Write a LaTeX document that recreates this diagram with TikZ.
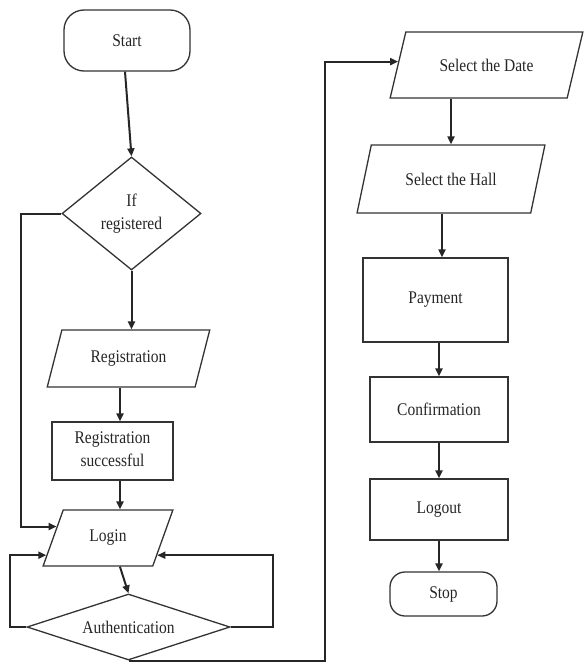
\documentclass[tikz,border=0pt]{standalone}
\usepackage{fontspec}
\usepackage{graphicx}
\setmainfont{Liberation Serif}
\usetikzlibrary{shapes.geometric,arrows.meta,calc}
\newcommand{\tx}[1]{\scalebox{1}[1.15]{#1}}
\newcommand{\twol}[2]{\tx{\begin{tabular}{@{}c@{}}#1\\[2pt]#2\end{tabular}}}
\begin{document}
\begin{tikzpicture}[x=1pt,y=-1pt,
  every node/.style={font=\fontsize{15.5}{18}\selectfont, text=black!85},
  shp/.style={draw=black!80, line width=1.3pt, inner sep=0pt},
  box/.style={shp, rectangle},
  term/.style={shp, rectangle, rounded corners=#1},
  dec/.style={shp, diamond, aspect=#1},
  para/.style={shp, trapezium, trapezium stretches=true},
  arr/.style={draw=black!85, line width=2pt, -{Triangle[length=8pt,width=7pt]}}
]
\useasboundingbox (0,0) rectangle (584,664);

% left column
\node[term=20pt, minimum width=126pt, minimum height=61pt] (start) at (127,40.5) {\tx{Start}};
\node[dec=1.23, minimum width=139pt, minimum height=113pt] (ir) at (131.5,213.5) {\twol{If}{registered}};
\node[para, trapezium left angle=62, trapezium right angle=118, minimum width=163pt, minimum height=57pt] (reg) at (128.5,358.5) {\tx{Registration}};
\node[box, minimum width=121pt, minimum height=58pt] (rs) at (112.5,451) {\twol{Registration}{successful}};
\node[para, trapezium left angle=62, trapezium right angle=118, minimum width=130pt, minimum height=56pt] (login) at (108,538) {\tx{Login}};
\node[dec=3.07, minimum width=203pt, minimum height=66pt] (auth) at (128.5,627) {\tx{Authentication}};

% right column
\node[para, trapezium left angle=54, trapezium right angle=126, minimum width=193pt, minimum height=66pt] (dt) at (486.5,65) {\tx{Select the Date}};
\node[para, trapezium left angle=57, trapezium right angle=123, minimum width=188pt, minimum height=68pt] (hl) at (451,179) {\tx{Select the Hall}};
\node[box, minimum width=145pt, minimum height=84pt] (pay) at (435.5,300) {\tx{Payment}};
\node[box, minimum width=138pt, minimum height=65pt] (conf) at (439,409.5) {\tx{Confirmation}};
\node[box, minimum width=138pt, minimum height=61pt] (lo) at (439,509.5) {\tx{Logout}};
\node[term=15pt, minimum width=107pt, minimum height=44pt] (stop) at (443.5,594) {\tx{Stop}};

% helper coordinates
\coordinate (lA) at (21,0);
\coordinate (lL) at (10,0);
\coordinate (lR) at (273,0);
\coordinate (lB) at (325,0);
\coordinate (loginA) at ($(login.top left corner)!0.3!(login.bottom left corner)$);
\coordinate (loginL) at ($(login.top left corner)!0.8!(login.bottom left corner)$);
\coordinate (loginR) at ($(login.top right corner)!0.8!(login.bottom right corner)$);
\coordinate (loginB) at ($(login.bottom left corner)!0.7!(login.bottom right corner)$);
\coordinate (dtA) at ($(dt.top left corner)!0.45!(dt.bottom left corner)$);

% connectors
\draw[arr] ([xshift=-2pt]start.south) -- (ir.north);
\draw[arr] (ir.west) -- (ir.west -| lA) |- (loginA);
\draw[arr] (ir.south) -- (ir.south |- reg.north);
\draw[arr] ([xshift=-8.5pt]reg.south) -- ([xshift=-8.5pt]reg.south |- rs.north);
\draw[arr] ([xshift=7.5pt]rs.south) -- ([xshift=7.5pt]rs.south |- login.north);
\draw[arr] (loginB) -- (auth.north);
\draw[arr] (auth.west) -- (auth.west -| lL) |- (loginL);
\draw[arr] (auth.east) -- (auth.east -| lR) |- (loginR);
\draw[arr] (auth.south) -- (auth.south -| lB) |- (dtA);
\draw[arr] (dt.south -| hl.north) -- (hl.north);
\draw[arr] ([xshift=-9pt]hl.south) -- ([xshift=-9pt]hl.south |- pay.north);
\draw[arr] (conf.north |- pay.south) -- (conf.north);
\draw[arr] (conf.south) -- (lo.north);
\draw[arr] (lo.south) -- (lo.south |- stop.north);
\end{tikzpicture}
\end{document}
